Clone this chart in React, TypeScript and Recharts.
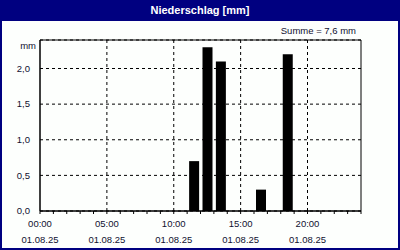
import { FC } from "react";
import {
  BarChart,
  Bar,
  XAxis,
  YAxis,
  CartesianGrid,
  ReferenceLine,
  ReferenceArea,
} from "recharts";

// hourly precipitation, 01.08.25
const hours = Array.from({ length: 24 }, (_, i) => i);
const rain = [
  0, 0, 0, 0, 0, 0, 0, 0, 0, 0, 0, 0.7, 2.3, 2.1, 0, 0, 0.3, 0, 2.2, 0, 0, 0,
  0, 0,
];
const timeTicks = Array.from({ length: 25 }, (_, i) => i);
const majorHours = [5, 10, 15, 20];
const yTicks = [0, 0.5, 1, 1.5, 2];
const dateLabel = "01.08.25";
const title = "Niederschlag [mm]";
const sumLabel = "Summe = 7,6 mm";

const navy = "#000080";
const font = "'Liberation Sans', Arial, sans-serif";

const data = hours.map((h, i) => ({
  h,
  hour: String(h).padStart(2, "0"),
  value: rain[i],
}));

const TimeTick: FC<any> = (props) => {
  const { x, y, payload } = props;
  const v = payload.value as number;
  if (v % 5 !== 0 || v === 24) return null;
  const hh = String(v).padStart(2, "0") + ":00";
  return (
    <g>
      <text x={x} y={y} dy={11} textAnchor="middle" fontSize={9.5} fill="#101030" fontFamily={font}>
        {hh}
      </text>
      <text x={x} y={y} dy={27} textAnchor="middle" fontSize={9.5} fill="#101030" fontFamily={font}>
        {dateLabel}
      </text>
    </g>
  );
};

const App: FC = () => {
  return (
    <div
      style={{
        position: "absolute",
        left: 0,
        top: 0,
        width: 400,
        height: 250,
        boxSizing: "border-box",
        border: `2px solid ${navy}`,
        borderTop: "none",
        background: "#fdfffd",
        fontFamily: font,
      }}
    >
      <div
        style={{
          position: "absolute",
          left: -2,
          top: 0,
          width: 400,
          height: 21,
          background: navy,
          color: "#fff",
          fontWeight: "bold",
          fontSize: 11,
          lineHeight: "21px",
          textAlign: "center",
        }}
      >
        {title}
      </div>
      <div
        style={{
          position: "absolute",
          right: 42,
          top: 25,
          fontSize: 9.5,
          color: "#101030",
        }}
      >
        {sumLabel}
      </div>
      <div style={{ position: "absolute", left: -2, top: 0 }}>
        <BarChart
          width={400}
          height={250}
          data={data}
          margin={{ top: 40, right: 39, bottom: 0, left: 0 }}
          barSize={10}
        >
          <CartesianGrid
            vertical={false}
            stroke="#000"
            strokeDasharray="3 3"
            horizontalPoints={undefined}
          />
          <XAxis xAxisId="cat" dataKey="hour" type="category" hide />
          <XAxis
            xAxisId={0}
            dataKey="h"
            type="number"
            domain={[0, 24]}
            ticks={timeTicks}
            interval={0}
            height={39}
            tickSize={3}
            tickMargin={2}
            stroke="#000"
            tick={<TimeTick />}
          />
          <YAxis
            domain={[0, 2.4]}
            ticks={yTicks}
            width={40}
            tickLine={false}
            axisLine={{ stroke: "#000" }}
            tick={{ fontSize: 9.5, fill: "#101030", fontFamily: font }}
            tickFormatter={(v: number) => v.toFixed(1).replace(".", ",")}
            tickMargin={4}
            label={{
              content: (p: any) => (
                <text
                  x={p.viewBox.x + p.viewBox.width - 4}
                  y={p.viewBox.y + 9}
                  textAnchor="end"
                  fontSize={9.5}
                  fill="#101030"
                  fontFamily={font}
                >
                  mm
                </text>
              ),
            }}
          />
          {majorHours.map((h) => (
            <ReferenceLine
              key={h}
              x={h}
              xAxisId={0}
              stroke="#000"
              strokeDasharray="3 3"
            />
          ))}
          <ReferenceArea
            x1={0}
            x2={24}
            y1={0}
            y2={2.4}
            xAxisId={0}
            fill="none"
            stroke="#000"
            strokeWidth={1}
          />
          <Bar
            dataKey="value"
            xAxisId="cat"
            fill="#000"
            isAnimationActive={false}
          />
        </BarChart>
      </div>
    </div>
  );
};

export default App;
